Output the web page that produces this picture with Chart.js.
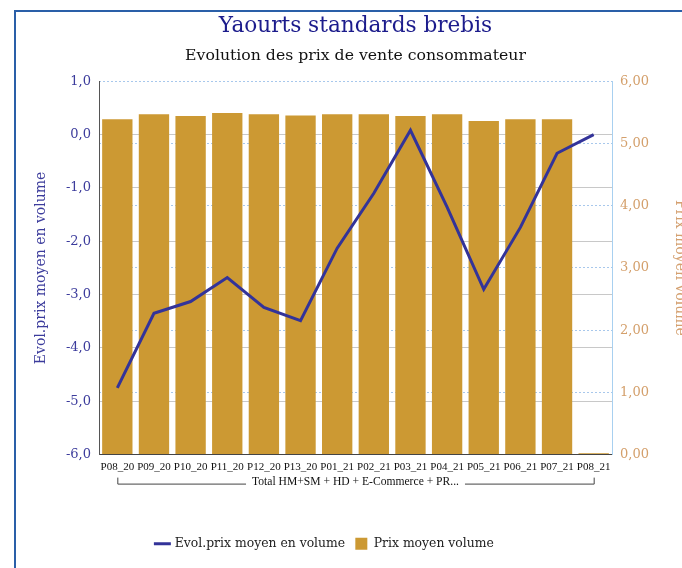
<!DOCTYPE html>
<html>
<head>
<meta charset="utf-8">
<script src="https://cdn.jsdelivr.net/npm/chart.js@4.4.1/dist/chart.umd.min.js"></script>
<style>
  html, body { margin: 0; padding: 0; background: #fff; }
  #wrap { position: relative; width: 682px; height: 568px; }
  #frame { position: absolute; left: 14px; top: 10px; width: 700px; height: 600px;
           border-left: 2px solid #2a5fa8; border-top: 2px solid #2a5fa8; }
  canvas { position: absolute; left: 0; top: 0; }
</style>
</head>
<body>
<div id="wrap">
  <div id="frame"></div>
  <canvas id="chart" width="682" height="568"></canvas>
</div>
<script>
const periods = ['P08_20', 'P09_20', 'P10_20', 'P11_20', 'P12_20', 'P13_20', 'P01_21',
  'P02_21', 'P03_21', 'P04_21', 'P05_21', 'P06_21', 'P07_21', 'P08_21'];
const evolPrix = [-4.75, -3.35, -3.13, -2.68, -3.24, -3.49, -2.13, -1.10, 0.08, -1.36, -2.90, -1.74, -0.35, 0.0];
const prixMoyen = [5.39, 5.47, 5.44, 5.49, 5.47, 5.45, 5.47, 5.47, 5.44, 5.47, 5.36, 5.39, 5.39, 0.02];
const groupLabel = 'Total HM+SM + HD + E-Commerce + PR...';

const serif = 'DejaVu Serif';

// bracket with the group label under the period labels
const groupBracket = {
  id: 'groupBracket',
  afterLayout(chart) {
    // legend sits a bit left of the canvas centre in the original
    const lg = chart.legend;
    lg.left = 0;
    lg.right = 650;
  },
  afterDraw(chart) {
    const x = chart.scales.x;
    const ctx = chart.ctx;
    const x0 = x.getPixelForValue(0);
    const x1 = x.getPixelForValue(periods.length - 1);
    const y = chart.chartArea.bottom + 29;
    ctx.save();
    ctx.font = '11.6px "Liberation Serif"';
    const tw = ctx.measureText(groupLabel).width;
    const mid = (x0 + x1) / 2;
    ctx.strokeStyle = '#444';
    ctx.lineWidth = 1;
    ctx.beginPath();
    ctx.moveTo(x0 + 0.5, y - 6);
    ctx.lineTo(x0 + 0.5, y + 0.5);
    ctx.lineTo(mid - tw / 2 - 6, y + 0.5);
    ctx.moveTo(mid + tw / 2 + 6, y + 0.5);
    ctx.lineTo(x1 + 0.5, y + 0.5);
    ctx.lineTo(x1 + 0.5, y - 6);
    ctx.stroke();
    ctx.fillStyle = '#111';
    ctx.textAlign = 'center';
    ctx.textBaseline = 'middle';
    ctx.fillText(groupLabel, mid, y - 2);
    ctx.restore();
  }
};

new Chart(document.getElementById('chart').getContext('2d'), {
  data: {
    labels: periods,
    datasets: [{
      type: 'line',
      label: 'Evol.prix moyen en volume',
      data: evolPrix,
      yAxisID: 'y',
      borderColor: '#333399',
      backgroundColor: '#333399',
      borderWidth: 3,
      pointRadius: 0,
      pointStyle: 'line',
      tension: 0,
      order: 0
    }, {
      type: 'bar',
      label: 'Prix moyen volume',
      data: prixMoyen,
      yAxisID: 'y1',
      backgroundColor: '#cc9933',
      borderWidth: 0,
      barPercentage: 0.9,
      categoryPercentage: 0.92,
      pointStyle: 'rect',
      order: 1
    }]
  },
  options: {
    responsive: false,
    animation: false,
    layout: { padding: { left: 29, right: 0, top: 0, bottom: 8 } },
    plugins: {
      title: {
        display: true,
        text: 'Yaourts standards brebis',
        color: '#1c1c8c',
        font: { family: serif, size: 21.6, weight: 'normal' },
        padding: { top: 13, bottom: 8 }
      },
      subtitle: {
        display: true,
        text: 'Evolution des prix de vente consommateur',
        color: '#111',
        font: { family: serif, size: 15.7 },
        padding: { top: 0, bottom: 15.5 }
      },
      legend: {
        position: 'bottom',
        labels: {
          usePointStyle: true,
          color: '#222',
          font: { family: serif, size: 12.4 },
          boxHeight: 12,
          padding: 10
        }
      },
      tooltip: { enabled: false }
    },
    scales: {
      x: {
        offset: true,
        grid: { display: false, drawTicks: false },
        border: { color: '#444' },
        ticks: {
          autoSkip: false, maxRotation: 0, padding: 6, color: '#111',
          font: { family: 'Liberation Serif', size: 11 }
        },
        afterFit(scale) { scale.height = 73; }
      },
      y: {
        position: 'left',
        min: -6, max: 1,
        ticks: {
          stepSize: 1, padding: 8, color: '#3c3c9c',
          font: { family: serif, size: 13 },
          callback: v => v.toFixed(1).replace('.', ',')
        },
        grid: {
          drawTicks: false,
          color: ctx => ctx.tick && ctx.tick.value === 1 ? 'rgba(0,0,0,0)' : '#c8c8c8'
        },
        border: { color: '#555' },
        title: {
          display: true,
          text: 'Evol.prix moyen en volume',
          color: '#3c3c9c',
          font: { family: serif, size: 14 },
          padding: { top: 4, bottom: 0 }
        },
        afterFit(scale) { scale.width = 70; }
      },
      y1: {
        position: 'right',
        min: 0, max: 6,
        ticks: {
          stepSize: 1, padding: 8, color: '#d4a06c',
          font: { family: serif, size: 13 },
          callback: v => v.toFixed(2).replace('.', ',')
        },
        grid: {
          drawTicks: false,
          color: '#a8c8ec'
        },
        border: { color: '#a8d0f0', dash: [2, 2] },
        title: {
          display: true,
          text: 'Prix moyen volume',
          color: '#d4a070',
          font: { family: serif, size: 14 },
          padding: { top: -6, bottom: 0 }
        },
        afterFit(scale) { scale.width = 70; }
      }
    }
  },
  plugins: [groupBracket]
});
</script>
</body>
</html>
